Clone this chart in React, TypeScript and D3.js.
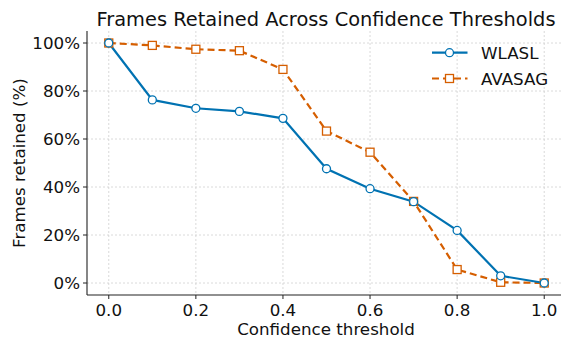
import React from "react";
import * as d3 from "d3";

const thresholds = [0, 0.1, 0.2, 0.3, 0.4, 0.5, 0.6, 0.7, 0.8, 0.9, 1.0];
const wlasl = [100, 76.3, 72.8, 71.5, 68.6, 47.6, 39.3, 33.9, 21.9, 3.0, 0];
const avasag = [100, 99.0, 97.4, 96.8, 89.0, 63.3, 54.5, 34.0, 5.6, 0.3, 0];
const xTicks = [0, 0.2, 0.4, 0.6, 0.8, 1.0];
const yTicks = [0, 20, 40, 60, 80, 100];
const seriesNames = ["WLASL", "AVASAG"];

const W = 561, H = 340;
const left = 87, right = 566, top = 31, bottom = 295;
const FONT = "DejaVu Sans, sans-serif";
const BLUE = "#0072B2";
const ORANGE = "#D55E00";
const FS = 16.7;

export default function App() {
  const x = d3.scaleLinear().domain([-0.05, 1.05]).range([left, right]);
  const y = d3.scaleLinear().domain([-5, 105]).range([bottom, top]);
  const line = d3.line<[number, number]>().x(d => x(d[0])).y(d => y(d[1]));
  const wData = thresholds.map((t, i) => [t, wlasl[i]] as [number, number]);
  const aData = thresholds.map((t, i) => [t, avasag[i]] as [number, number]);
  const sq = 8;
  return (
    <svg width={W} height={H} style={{ position: "absolute", left: 0, top: 0 }} fontFamily={FONT}>
      <rect width={W} height={H} fill="white" />
      {xTicks.map(t => (
        <line key={"gx" + t} x1={x(t)} x2={x(t)} y1={top} y2={bottom} stroke="#d0d0d0" strokeWidth={0.8} strokeDasharray="2,2" />
      ))}
      {yTicks.map(t => (
        <line key={"gy" + t} x1={left} x2={W} y1={y(t)} y2={y(t)} stroke="#d0d0d0" strokeWidth={0.8} strokeDasharray="2,2" />
      ))}
      <line x1={left} x2={left} y1={top} y2={bottom} stroke="#222" strokeWidth={1.1} />
      <line x1={left} x2={W} y1={bottom} y2={bottom} stroke="#222" strokeWidth={1.1} />
      {xTicks.map(t => (
        <g key={"tx" + t}>
          <line x1={x(t)} x2={x(t)} y1={bottom} y2={bottom + 4} stroke="#222" strokeWidth={1} />
          <text x={x(t)} y={bottom + 20.5} textAnchor="middle" fontSize={FS} fill="#111">{t.toFixed(1)}</text>
        </g>
      ))}
      {yTicks.map(t => (
        <g key={"ty" + t}>
          <line x1={left - 4} x2={left} y1={y(t)} y2={y(t)} stroke="#222" strokeWidth={1} />
          <text x={left - 7} y={y(t)} dy="0.36em" textAnchor="end" fontSize={FS} fill="#111">{t + "%"}</text>
        </g>
      ))}
      <path d={line(aData) || ""} fill="none" stroke={ORANGE} strokeWidth={2.2} strokeDasharray="7,4" />
      <path d={line(wData) || ""} fill="none" stroke={BLUE} strokeWidth={2.2} />
      {aData.map((d, i) => (
        <rect key={"a" + i} x={x(d[0]) - sq / 2} y={y(d[1]) - sq / 2} width={sq} height={sq} fill="white" stroke={ORANGE} strokeWidth={1.3} />
      ))}
      {wData.map((d, i) => (
        <circle key={"w" + i} cx={x(d[0])} cy={y(d[1])} r={4} fill="white" stroke={BLUE} strokeWidth={1.3} />
      ))}
      <g>
        <line x1={432} x2={467.5} y1={52.7} y2={52.7} stroke={BLUE} strokeWidth={2.2} />
        <circle cx={449.5} cy={52.7} r={4} fill="white" stroke={BLUE} strokeWidth={1.3} />
        <text x={481} y={52.7} dy="0.36em" fontSize={FS} fill="#111">{seriesNames[0]}</text>
        <line x1={432} x2={467.5} y1={78.5} y2={78.5} stroke={ORANGE} strokeWidth={2.2} strokeDasharray="7,4" />
        <rect x={449.5 - sq / 2} y={78.5 - sq / 2} width={sq} height={sq} fill="white" stroke={ORANGE} strokeWidth={1.3} />
        <text x={481} y={78.5} dy="0.36em" fontSize={FS} fill="#111">{seriesNames[1]}</text>
      </g>
      <text x={326} y={26} textAnchor="middle" fontSize={19.4} fill="#111">Frames Retained Across Confidence Thresholds</text>
      <text x={326} y={335} textAnchor="middle" fontSize={FS} fill="#111">Confidence threshold</text>
      <text transform={`translate(25,${(top + bottom) / 2}) rotate(-90)`} textAnchor="middle" fontSize={FS} fill="#111">Frames retained (%)</text>
    </svg>
  );
}
